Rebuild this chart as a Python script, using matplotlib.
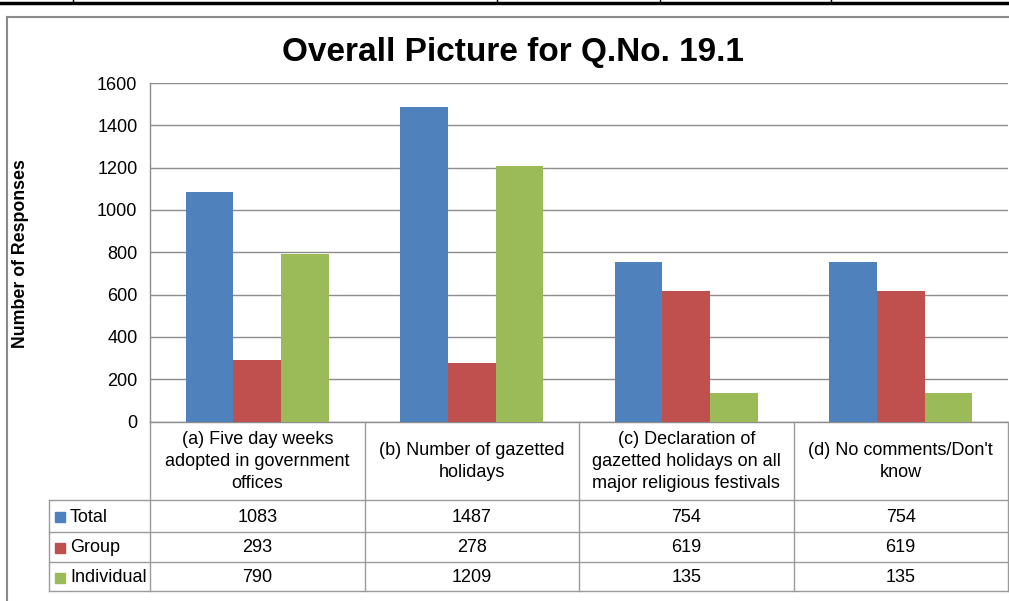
import matplotlib
matplotlib.use("Agg")
import matplotlib.pyplot as plt
from matplotlib.lines import Line2D
from matplotlib.patches import Rectangle

# Data
categories = [
    "(a) Five day weeks\nadopted in government\noffices",
    "(b) Number of gazetted\nholidays",
    "(c) Declaration of\ngazetted holidays on all\nmajor religious festivals",
    "(d) No comments/Don't\nknow",
]
series_names = ["Total", "Group", "Individual"]
total = [1083, 1487, 754, 754]
group = [293, 278, 619, 619]
individual = [790, 1209, 135, 135]
yticks = [0, 200, 400, 600, 800, 1000, 1200, 1400, 1600]

colors = ["#4F81BD", "#C0504D", "#9BBB59"]
grid_col = "#8C8C8C"

plt.rcParams["font.family"] = ["Liberation Sans", "DejaVu Sans"]

W, H = 1009, 601
fig = plt.figure(figsize=(W / 100, H / 100), dpi=100)


def fx(x):
    return x / W


def fy(y):
    return 1 - y / H


# plot area
left, right, top, bottom = 150, 1008, 83, 421.5
ax = fig.add_axes([fx(left), fy(bottom), fx(right) - fx(left), fy(top) - fy(bottom)])

values = [total, group, individual]
n = len(categories)
w = 0.222
for k, vals in enumerate(values):
    xs = [i + (k - 1) * w for i in range(n)]
    ax.bar(xs, vals, width=w, color=colors[k], zorder=3)

ax.set_xlim(-0.5, n - 0.5)
ax.set_ylim(0, 1600)
ax.set_yticks(yticks)
ax.set_xticks([])
ax.yaxis.grid(True, color=grid_col, lw=1)
ax.set_axisbelow(True)
for s in ["top", "right"]:
    ax.spines[s].set_visible(False)
for s in ["left", "bottom"]:
    ax.spines[s].set_color(grid_col)
    ax.spines[s].set_linewidth(1)
ax.tick_params(axis="y", length=0, labelsize=13, pad=9)

# title and y label
fig.text(fx(513), fy(52), "Overall Picture for Q.No. 19.1", ha="center", va="center",
         fontsize=24, fontweight="bold")
fig.text(fx(21), fy(254), "Number of Responses", ha="center", va="center",
         rotation=90, fontsize=12.8, fontweight="bold")

# data table below the plot
line_col = "#9A9A9A"
col_edges = [left + (right - left) * i / n for i in range(n + 1)]
header_bottom = 500
row_edges = [500, 532, 562, 591]
label_left = 49


def hline(y, x0, x1):
    fig.add_artist(Line2D([fx(x0), fx(x1)], [fy(y), fy(y)], color=line_col, lw=1))


def vline(x, y0, y1):
    fig.add_artist(Line2D([fx(x), fx(x)], [fy(y0), fy(y1)], color=line_col, lw=1))


for xe in col_edges:
    vline(xe, bottom, row_edges[-1])
vline(label_left, row_edges[0], row_edges[-1])
for ye in row_edges:
    hline(ye, label_left, right)

for i, cat in enumerate(categories):
    cx = (col_edges[i] + col_edges[i + 1]) / 2
    fig.text(fx(cx), fy((bottom + header_bottom) / 2 + 1), cat, ha="center", va="center",
             fontsize=13, linespacing=1.38)

for r, name in enumerate(series_names):
    cy = (row_edges[r] + row_edges[r + 1]) / 2 + 1
    fig.add_artist(Rectangle((fx(55), fy(cy + 5)), fx(10), 10 / H,
                             color=colors[r], transform=fig.transFigure))
    fig.text(fx(70), fy(cy), name, ha="left", va="center", fontsize=13)
    for i in range(n):
        cx = (col_edges[i] + col_edges[i + 1]) / 2
        fig.text(fx(cx), fy(cy), str(values[r][i]), ha="center", va="center", fontsize=13)

# chart border and the page table line above it
fig.add_artist(Line2D([fx(7), fx(7)], [fy(17), fy(601)], color="#8A8A8A", lw=1.5))
fig.add_artist(Line2D([fx(7), fx(1009)], [fy(17), fy(17)], color="#8A8A8A", lw=1.5))
fig.add_artist(Line2D([0, 1], [fy(3), fy(3)], color="black", lw=2.5))
for xv in [73, 497, 660, 831]:
    fig.add_artist(Line2D([fx(xv), fx(xv)], [fy(0), fy(3)], color="black", lw=1))

fig.savefig("out.png", dpi=100)
